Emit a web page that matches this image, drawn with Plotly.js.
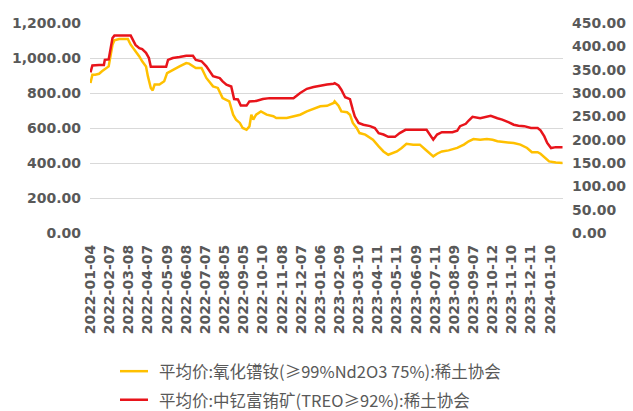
<!DOCTYPE html>
<html>
<head>
<meta charset="utf-8">
<script src="https://cdn.plot.ly/plotly-3.0.1.min.js"></script>
<style>
  html, body { margin: 0; padding: 0; background: #ffffff; }
  #chart { width: 633px; height: 411px; }
</style>
</head>
<body>
<div id="chart"></div>
<script>
// Trading-day labels shown on the category axis (one every 20 trading days)
const dateTicks = [
  '2022-01-04', '2022-02-07', '2022-03-08', '2022-04-07', '2022-05-09',
  '2022-06-08', '2022-07-07', '2022-08-05', '2022-09-05', '2022-10-10',
  '2022-11-08', '2022-12-07', '2023-01-06', '2023-02-09', '2023-03-10',
  '2023-04-11', '2023-05-11', '2023-06-09', '2023-07-11', '2023-08-09',
  '2023-09-07', '2023-10-12', '2023-11-10', '2023-12-11', '2024-01-10'
];
const daysPerTick = 20;

// 氧化镨钕 average price (left axis), keyed by trading day since 2022-01-04
const ndprDays = [0, 2, 5, 9, 12, 16, 19, 23, 25, 30, 39, 42, 46, 51, 54, 58, 60, 63, 65, 67,
  72, 77, 80, 86, 93, 100, 103, 110, 116, 121, 128, 133, 138, 145, 149, 152, 156, 159, 163, 166,
  168, 170, 173, 178, 184, 191, 194, 205, 212, 219, 226, 233, 240, 247, 254, 255, 259, 262, 268, 271,
  274, 278, 281, 287, 292, 295, 301, 306, 311, 315, 320, 325, 330, 337, 344, 350, 355, 358, 362, 367,
  374, 383, 390, 395, 400, 407, 414, 420, 425, 435, 442, 449, 456, 461, 467, 470, 475, 479, 486, 493];
const ndprPrice = [857, 905, 905, 910, 924, 943, 952, 1076, 1101, 1109, 1109, 1076, 1047, 1009, 981, 952, 895, 829, 815, 848,
  848, 867, 914, 933, 952, 971, 968, 943, 943, 886, 838, 829, 771, 752, 676, 648, 629, 600, 590, 609,
  676, 648, 676, 695, 676, 667, 657, 657, 667, 676, 695, 709, 724, 727, 743, 752, 727, 695, 690, 676,
  629, 600, 571, 562, 543, 533, 495, 466, 447, 457, 466, 486, 510, 505, 505, 476, 453, 438, 453, 466,
  472, 486, 505, 524, 537, 533, 537, 533, 524, 518, 514, 505, 486, 462, 462, 453, 429, 409, 403, 400];

// 中钇富铕矿 average price (right axis)
const oreDays = [0, 2, 9, 14, 15, 19, 23, 25, 42, 44, 47, 51, 54, 58, 61, 63, 79, 81, 86, 93,
  100, 107, 110, 116, 121, 128, 135, 138, 142, 147, 150, 154, 157, 163, 166, 173, 180, 187, 212, 219,
  226, 233, 240, 247, 254, 255, 259, 262, 266, 271, 274, 276, 280, 285, 292, 297, 301, 306, 311, 318,
  323, 329, 351, 357, 358, 362, 367, 378, 383, 386, 392, 395, 399, 407, 413, 418, 425, 430, 437, 442,
  447, 453, 460, 467, 470, 474, 477, 481, 486, 493];
const orePrice = [344, 359, 360, 360, 371, 372, 418, 423, 423, 416, 403, 396, 394, 386, 375, 356, 356, 371, 375, 377,
  380, 380, 371, 368, 357, 336, 332, 325, 318, 314, 287, 286, 273, 273, 282, 283, 287, 289, 289, 300,
  309, 313, 316, 318, 320, 321, 316, 307, 291, 287, 264, 250, 236, 232, 229, 225, 214, 211, 206, 206,
  214, 221, 221, 204, 200, 211, 216, 216, 219, 229, 234, 241, 249, 246, 249, 251, 246, 243, 237, 232,
  230, 229, 225, 225, 220, 207, 193, 182, 184, 184];

const seriesNames = [
  '平均价:氧化镨钕(≥99%Nd2O3 75%):稀土协会',
  '平均价:中钇富铕矿(TREO≥92%):稀土协会'
];
const seriesColors = ['#FFC000', '#E8141B'];

const tickFont = { family: 'DejaVu Sans', size: 14, color: '#595959', weight: 'bold' };

const traces = [
  {
    x: ndprDays, y: ndprPrice, name: seriesNames[0], type: 'scatter', mode: 'lines',
    line: { color: seriesColors[0], width: 2.5 }, yaxis: 'y'
  },
  {
    x: oreDays, y: orePrice, name: seriesNames[1], type: 'scatter', mode: 'lines',
    line: { color: seriesColors[1], width: 2.5 }, yaxis: 'y2'
  }
];

// Key below the chart: a short coloured stroke and the series name per row
// (paper units; the plot area spans 0..1 in both directions)
const keyRows = [-0.658, -0.794];
const keyShapes = seriesNames.map((_, i) => ({
  type: 'line', xref: 'paper', yref: 'paper',
  x0: 0.0634, x1: 0.1226, y0: keyRows[i], y1: keyRows[i],
  line: { color: seriesColors[i], width: 2.5 }
}));
const keyLabels = seriesNames.map((name, i) => ({
  xref: 'paper', yref: 'paper',
  x: 0.1417, y: keyRows[i], xanchor: 'left', yanchor: 'middle',
  text: name, showarrow: false,
  font: { family: 'Noto Sans CJK SC', size: 16.5, color: '#595959' }
}));

const layout = {
  width: 633, height: 411,
  margin: { l: 90, r: 70, t: 23, b: 178 },
  paper_bgcolor: '#ffffff', plot_bgcolor: '#ffffff',
  showlegend: false,
  xaxis: {
    range: [-0.5, 493.5],
    tickmode: 'array',
    tickvals: dateTicks.map((_, i) => i * daysPerTick),
    ticktext: dateTicks,
    tickangle: -90,
    tickfont: tickFont,
    showgrid: false, zeroline: false,
    showline: false, ticks: '',
    ticklabelstandoff: 8,
    automargin: false
  },
  yaxis: {
    range: [0, 1200], dtick: 200, tickformat: ',.2f',
    tickfont: tickFont,
    gridcolor: '#d9d9d9', gridwidth: 1,
    zeroline: false, showline: false, ticks: '',
    ticklabelstandoff: 8,
    automargin: false
  },
  yaxis2: {
    range: [0, 450], dtick: 50, tickformat: ',.2f',
    overlaying: 'y', side: 'right',
    tickfont: tickFont,
    showgrid: false, zeroline: false, showline: false, ticks: '',
    ticklabelstandoff: 8,
    automargin: false
  },
  shapes: keyShapes,
  annotations: keyLabels
};

Plotly.newPlot('chart', traces, layout, { displayModeBar: false, staticPlot: true });
</script>
</body>
</html>
